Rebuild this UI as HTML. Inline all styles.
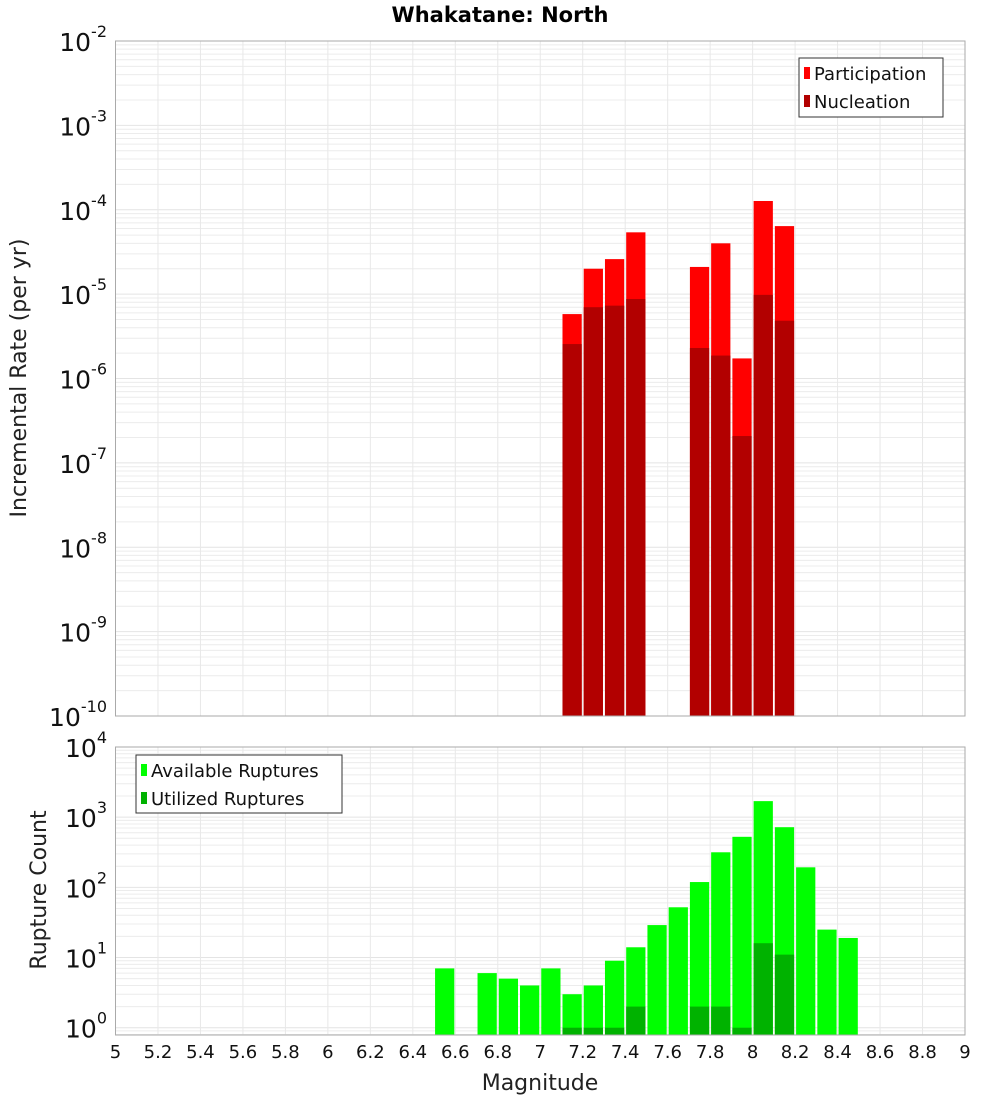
<!DOCTYPE html>
<html><head><meta charset="utf-8"><style>
body{margin:0;background:#fff;font-family:"Liberation Sans","DejaVu Sans",sans-serif}
svg text{font-family:"DejaVu Sans","Liberation Sans",sans-serif}
</style></head><body>
<svg id="c" width="1000" height="1100" xmlns="http://www.w3.org/2000/svg"></svg>
<script>
const binStarts=[7.1,7.2,7.3,7.4,7.7,7.8,7.9,8.0,8.1];
const participation=[5.8e-6,2.0e-5,2.6e-5,5.4e-5,2.1e-5,4.0e-5,1.73e-6,1.27e-4,6.4e-5];
const nucleation=[2.56e-6,7.0e-6,7.3e-6,8.75e-6,2.3e-6,1.87e-6,2.08e-7,9.8e-6,4.84e-6];
const countBins=[6.5,6.7,6.8,6.9,7.0,7.1,7.2,7.3,7.4,7.5,7.6,7.7,7.8,7.9,8.0,8.1,8.2,8.3,8.4];
const available=[7,6,5,4,7,3,4,9,14,29,52,119,316,525,1693,720,193,25,19];
const utilBins=[7.1,7.2,7.3,7.4,7.7,7.8,7.9,8.0,8.1];
const utilized=[1,1,1,2,2,2,1,16,11];
const xTicks=[5,5.2,5.4,5.6,5.8,6,6.2,6.4,6.6,6.8,7,7.2,7.4,7.6,7.8,8,8.2,8.4,8.6,8.8,9];
const topExps=[-2,-3,-4,-5,-6,-7,-8,-9,-10];
const botExps=[4,3,2,1,0];

const NS="http://www.w3.org/2000/svg";
const svg=document.getElementById('c');
function mk(t,a,p){const e=document.createElementNS(NS,t);for(const k in a)e.setAttribute(k,a[k]);(p||svg).appendChild(e);return e;}
const X0=115.5,X1=965;
const xs=m=>X0+(m-5)/4*(X1-X0);
const T0=41,T1=716;
const yTop=v=>T0+(-2-Math.log10(v))*(T1-T0)/8;
const B0=747,B1=1035;
const BLO=-0.104,BHI=4;
const yBot=v=>B1-(Math.log10(v)-BLO)/(BHI-BLO)*(B1-B0);

function grid(y0,y1,lo,hi,yf,name){
  const g=mk('g',{});
  
  
  for(let e=Math.floor(lo);e<hi;e++)for(let k=1;k<10;k++){
    const v=k*Math.pow(10,e);const y=yf(v);
    if(y<y0-0.5||y>y1+0.5)continue;
    mk('line',{x1:X0,x2:X1,y1:y,y2:y,stroke:k==1?'#e4e4e4':'#ececec','stroke-width':1},g);
  }
  for(const t of xTicks){const x=xs(t);mk('line',{x1:x,x2:x,y1:y0,y2:y1,stroke:'#e8e8e8','stroke-width':1},g);}
}
grid(T0,T1,-10,-2,yTop,'top-grid');
grid(B0,B1,-1,4,yBot,'bottom-grid');

// top bars
binStarts.forEach((m,i)=>{
  const x=xs(m)+1,w=xs(m+0.1)-xs(m)-2;
  let y=yTop(participation[i]);
  const r=mk('rect',{x:x,y:y,width:w,height:T1-y,fill:'#ff0000'});
  
  
  y=yTop(nucleation[i]);
  const r2=mk('rect',{x:x,y:y,width:w,height:T1-y,fill:'#b20000'});
  
  
});
countBins.forEach((m,i)=>{
  const x=xs(m)+1,w=xs(m+0.1)-xs(m)-2;const y=yBot(available[i]);
  const r=mk('rect',{x:x,y:y,width:w,height:B1-y,fill:'#00ff00'});
  
  
});
utilBins.forEach((m,i)=>{
  const x=xs(m)+1,w=xs(m+0.1)-xs(m)-2;const y=yBot(utilized[i]);
  const r=mk('rect',{x:x,y:y,width:w,height:B1-y,fill:'#00b200'});
  
  
});
// frames
let f=mk('rect',{x:X0,y:T0,width:X1-X0,height:T1-T0,fill:'none',stroke:'#aaa'});

f=mk('rect',{x:X0,y:B0,width:X1-X0,height:B1-B0,fill:'none',stroke:'#aaa'});


// y labels
function ylab(e,y,name){
  const t=mk('text',{x:107,y:y+10,'text-anchor':'end','font-size':25,fill:'#111'});
  
  
  const a=document.createElementNS(NS,'tspan');a.textContent='10';t.appendChild(a);
  const b=document.createElementNS(NS,'tspan');b.setAttribute('dy','-14');b.setAttribute('font-size','16');b.textContent=String(e);t.appendChild(b);
}
topExps.forEach(e=>ylab(e,yTop(Math.pow(10,e)),'top-y-tick'));
botExps.forEach(e=>ylab(e,yBot(Math.pow(10,e)),'bottom-y-tick'));
xTicks.forEach(t=>{
  const l=mk('text',{x:xs(t),y:1058,'text-anchor':'middle','font-size':18,fill:'#111'});
  
  
  l.textContent=String(t);
});
function txt(s,a,name){const t=mk('text',a);t.textContent=s;return t;}
txt('Whakatane: North',{x:500,y:22,'text-anchor':'middle','font-size':21,'font-weight':'bold',fill:'#000'},'chart-title');
txt('Incremental Rate (per yr)',{x:0,y:0,transform:'translate(26,378) rotate(-90)','text-anchor':'middle','font-size':22,fill:'#222'},'top-y-axis-title');
txt('Rupture Count',{x:0,y:0,transform:'translate(46,890) rotate(-90)','text-anchor':'middle','font-size':22,fill:'#222'},'bottom-y-axis-title');
txt('Magnitude',{x:540,y:1090,'text-anchor':'middle','font-size':22,fill:'#222'},'x-axis-title');

// legends
function legend(x,y,w,h,items,name){
  const g=mk('g',{});
  mk('rect',{x:x,y:y,width:w,height:h,fill:'#fff',stroke:'#333'},g);
  items.forEach((it,i)=>{
    const cy=y+15+i*28;
    const s=mk('rect',{x:x+5,y:cy-6,width:6,height:12,fill:it[1]},g);
    
    const t=mk('text',{x:x+15,y:cy+7,'font-size':18,fill:'#111'},g);t.textContent=it[0];
    
  });
}
legend(799,58,144,59,[['Participation','#ff0000'],['Nucleation','#b20000']],'top-legend');
legend(136,755,206,58,[['Available Ruptures','#00ff00'],['Utilized Ruptures','#00b200']],'bottom-legend');
</script>
</body></html>
